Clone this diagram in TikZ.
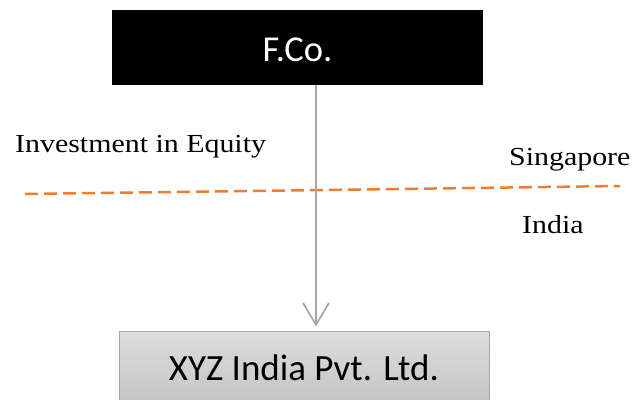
\documentclass[tikz,border=0pt]{standalone}
\usepackage{fontspec}
\usetikzlibrary{arrows.meta}
\newfontfamily\boxfont{Carlito}
\newfontfamily\labelfont[FakeStretch=1.15]{Liberation Serif}
\definecolor{borderorange}{HTML}{ED7D31}
\definecolor{linkgray}{HTML}{A6A6A6}
\definecolor{boxtop}{HTML}{DDDDDD}
\definecolor{boxbottom}{HTML}{C4C4C4}
\tikzset{
  parentbox/.style={fill=black, text=white, inner sep=0pt,
    minimum width=371pt, minimum height=75pt, text height=27pt, text depth=0pt,
    font=\boxfont\fontsize{36.5}{40}\selectfont},
  childbox/.style={draw=linkgray, line width=1pt, top color=boxtop, bottom color=boxbottom,
    inner sep=0pt, minimum width=370pt, minimum height=72pt, text height=26pt, text depth=0pt,
    font=\boxfont\fontsize{37}{42}\selectfont},
  arealabel/.style={inner sep=0pt, anchor=base west, font=\labelfont\fontsize{26}{30}\selectfont},
  flowarrow/.style={draw=linkgray, line width=1.7pt, shorten >=4pt,
    -{Straight Barb[length=22pt, width=26pt, line width=1.7pt]}},
  borderline/.style={draw=borderorange, line width=2.5pt, dash pattern=on 13pt off 6pt}
}
\begin{document}
\begin{tikzpicture}[x=1pt, y=-1pt]
  \useasboundingbox (0,0) rectangle (644,399);
  \clip (0,0) rectangle (644,399);

  % shareholding companies
  \node[parentbox] (fco) at (297.5,47.5) {F.Co.};
  \node[childbox] (xyz) at (304,367) {XYZ India Pvt. Ltd.};

  % country border
  \coordinate (bw) at (25,194);
  \coordinate (be) at (620,186);
  \draw[borderline] (bw) -- (be);

  % equity investment flow
  \draw[flowarrow] (316,0 |- fco.south) -- (316,0 |- xyz.north);

  % labels
  \node[arealabel] (inv) at (15,152) {Investment in Equity};
  \node[arealabel] (sg) at (509,165) {Singapore};
  \node[arealabel] (in) at (522,233) {India};
\end{tikzpicture}
\end{document}
